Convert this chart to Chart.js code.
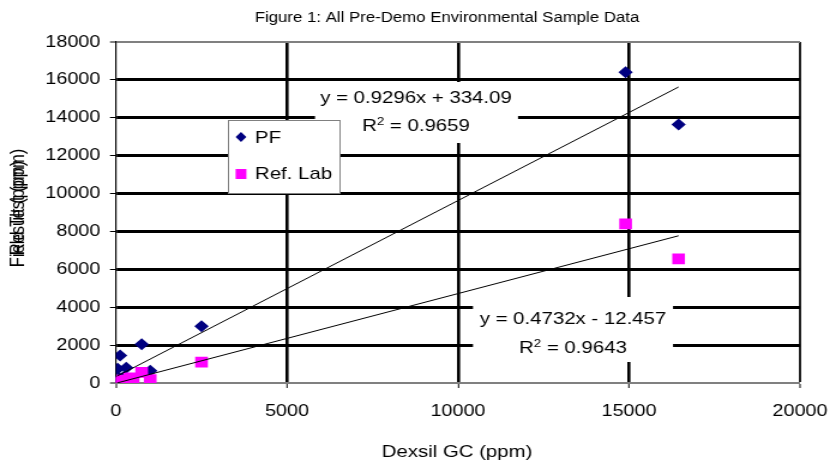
<!DOCTYPE html>
<html>
<head>
<meta charset="utf-8">
<title>Figure 1: All Pre-Demo Environmental Sample Data</title>
<script src="https://cdn.jsdelivr.net/npm/chart.js@4/dist/chart.umd.min.js"></script>
<style>
  html, body { margin: 0; padding: 0; background: #ffffff; }
</style>
</head>
<body>
<!-- the canvas is drawn narrower and widened by CSS, which gives the wide lettering -->
<canvas id="chart" width="692" height="464" style="display:block;width:830px;height:464px;"></canvas>
<script>
// ---- data ----
const seriesNames = ['PF', 'Ref. Lab'];

// PF field results vs Dexsil GC (ppm)
const pfX = [14900, 16450, 2500, 750, 120, 50, 300, 1000, 250, 100, 30, 400];
const pfY = [16400, 13650, 3000, 2050, 1450, 750, 800, 650, 350, 250, 100, 200];

// Reference lab results vs Dexsil GC (ppm)
const refX = [14900, 16450, 2500, 750, 1000, 50, 200, 400, 100, 30, 500, 300];
const refY = [8400, 6550, 1100, 560, 180, 60, 150, 280, 20, 0, 120, 40];

// linear trend lines: [slope, intercept], and R squared
const pfFit = [0.9296, 334.09];
const pfR2 = '0.9659';
const refFit = [0.4732, -12.457];
const refR2 = '0.9643';

const xTicks = [0, 5000, 10000, 15000, 20000];
const yTicks = [0, 2000, 4000, 6000, 8000, 10000, 12000, 14000, 16000, 18000];

const titleText = 'Figure 1: All Pre-Demo Environmental Sample Data';
const xTitle = 'Dexsil GC (ppm)';
const yTitles = ['Field Test (ppm)', 'Result (ppm)'];

// ---- helpers ----
const SX = 830 / 692;               // horizontal widening from CSS
const px = v => v / SX;             // page x -> canvas x
const FONT = '"Liberation Sans", Arial, Helvetica, sans-serif';

function fitLine(xs, fit) {
  const lo = Math.min(...xs), hi = Math.max(...xs);
  return [lo, hi].map(x => ({ x, y: fit[0] * x + fit[1] }));
}
function pts(xs, ys) { return xs.map((x, i) => ({ x, y: ys[i] })); }

function fmtEq(fit) {
  const b = fit[1];
  return 'y = ' + fit[0] + 'x ' + (b < 0 ? '- ' : '+ ') + Math.abs(b);
}

// equation + R² text block on a white panel
function drawEquation(ctx, cx, y1, y2, box, fit, r2) {
  ctx.save();
  ctx.fillStyle = '#ffffff';
  ctx.fillRect(px(box[0]), box[1], px(box[2]) - px(box[0]), box[3] - box[1]);
  ctx.fillStyle = '#000000';
  ctx.textBaseline = 'alphabetic';
  ctx.font = '17px ' + FONT;
  ctx.textAlign = 'center';
  ctx.fillText(fmtEq(fit), px(cx), y1);
  // R² line with a raised 2
  ctx.textAlign = 'left';
  const big = '17px ' + FONT, small = '11px ' + FONT;
  ctx.font = big; const wR = ctx.measureText('R').width;
  const rest = ' = ' + r2; const wRest = ctx.measureText(rest).width;
  ctx.font = small; const w2 = ctx.measureText('2').width;
  let x = px(cx) - (wR + w2 + wRest) / 2;
  ctx.font = big; ctx.fillText('R', x, y2); x += wR;
  ctx.font = small; ctx.fillText('2', x, y2 - 6); x += w2;
  ctx.font = big; ctx.fillText(rest, x, y2);
  ctx.restore();
}

const decorations = {
  id: 'decorations',
  afterDraw(chart) {
    const ctx = chart.ctx;
    ctx.save();
    ctx.fillStyle = '#000000';
    // title
    ctx.font = '14px ' + FONT;
    ctx.textAlign = 'center';
    ctx.textBaseline = 'middle';
    ctx.fillText(titleText, px(447), 18);
    // x axis title
    ctx.font = '17px ' + FONT;
    ctx.fillText(xTitle, px(457), 452);
    // y axis titles (two overlapping captions)
    ctx.save();
    ctx.translate(px(18), 208);
    ctx.rotate(-Math.PI / 2);
    ctx.font = '16.5px ' + FONT;
    yTitles.forEach(t => ctx.fillText(t, 0, 0));
    ctx.restore();

    // trend line labels
    drawEquation(ctx, 416, 103, 131, [315, 82, 518, 143], pfFit, pfR2);
    drawEquation(ctx, 573, 324, 353, [473, 297, 673, 362], refFit, refR2);

    // legend
    const L = px(228), R = px(340), T = 120, B = 193;
    ctx.fillStyle = '#ffffff';
    ctx.fillRect(L, T, R - L, B - T);
    ctx.strokeStyle = '#808080';
    ctx.lineWidth = 1;
    ctx.strokeRect(Math.round(L) + 0.5, T + 0.5, Math.round(R - L), B - T);
    const mx = px(241);
    ctx.fillStyle = '#000080';
    ctx.beginPath();
    ctx.moveTo(mx, 132); ctx.lineTo(mx + 4.5, 137); ctx.lineTo(mx, 142); ctx.lineTo(mx - 4.5, 137);
    ctx.closePath(); ctx.fill();
    ctx.fillStyle = '#ff00ff';
    ctx.fillRect(mx - 4.5, 169, 9, 10);
    ctx.fillStyle = '#000000';
    ctx.font = '17px ' + FONT;
    ctx.textAlign = 'left';
    ctx.textBaseline = 'middle';
    ctx.fillText(seriesNames[0], px(255), 138);
    ctx.fillText(seriesNames[1], px(255), 174);
    ctx.restore();
  }
};

const plain = v => String(v);

new Chart(document.getElementById('chart'), {
  type: 'scatter',
  data: {
    datasets: [
      {
        label: 'PF trend', type: 'line', data: fitLine(pfX, pfFit),
        borderColor: '#000000', borderWidth: 1, pointRadius: 0, fill: false, order: 0
      },
      {
        label: 'Ref. Lab trend', type: 'line', data: fitLine(refX, refFit),
        borderColor: '#000000', borderWidth: 1, pointRadius: 0, fill: false, order: 0
      },
      {
        label: seriesNames[1], data: pts(refX, refY),
        pointStyle: 'rect', pointRadius: 7.5, pointBorderWidth: 0,
        backgroundColor: '#ff00ff', borderColor: '#ff00ff', order: 1
      },
      {
        label: seriesNames[0], data: pts(pfX, pfY),
        pointStyle: 'rectRot', pointRadius: 6, pointBorderWidth: 0,
        backgroundColor: '#000080', borderColor: '#000080', order: 2
      }
    ]
  },
  options: {
    responsive: false,
    devicePixelRatio: 1,
    animation: false,
    layout: { padding: { top: 42, right: 692 - px(800), left: 0, bottom: 0 } },
    plugins: { legend: { display: false }, title: { display: false }, tooltip: { enabled: false } },
    scales: {
      x: {
        type: 'linear', min: 0, max: 20000,
        afterBuildTicks: s => { s.ticks = xTicks.map(v => ({ value: v })); },
        afterFit: s => { s.height = 81; s.paddingLeft = 0; s.paddingRight = 0; },
        border: { display: true, color: '#808080', width: 2 },
        grid: {
          drawTicks: true, tickLength: 5, tickWidth: 1, tickColor: '#000000',
          lineWidth: c => (c.tick && c.tick.value === 0) ? 0 : (c.tick && c.tick.value === 20000 ? 2 : 2.6),
          color: c => (c.tick && c.tick.value === 20000) ? '#222222' : '#000000'
        },
        ticks: { color: '#000000', font: { family: FONT, size: 16.5 }, padding: 14, maxRotation: 0, callback: plain }
      },
      y: {
        type: 'linear', min: 0, max: 18000,
        afterBuildTicks: s => { s.ticks = yTicks.map(v => ({ value: v })); },
        afterFit: s => { s.width = px(116); s.paddingTop = 0; s.paddingBottom = 0; },
        border: { display: true, color: '#000000', width: 1.2 },
        grid: {
          drawTicks: true, tickLength: 5, tickWidth: 1, tickColor: '#000000',
          lineWidth: c => (c.tick && c.tick.value === 0) ? 0 : (c.tick && c.tick.value === 18000 ? 2 : 3),
          color: c => (c.tick && c.tick.value === 18000) ? '#808080' : '#000000'
        },
        ticks: { color: '#000000', font: { family: FONT, size: 16.5 }, padding: 8, callback: plain }
      }
    }
  },
  plugins: [decorations]
});
</script>
</body>
</html>
